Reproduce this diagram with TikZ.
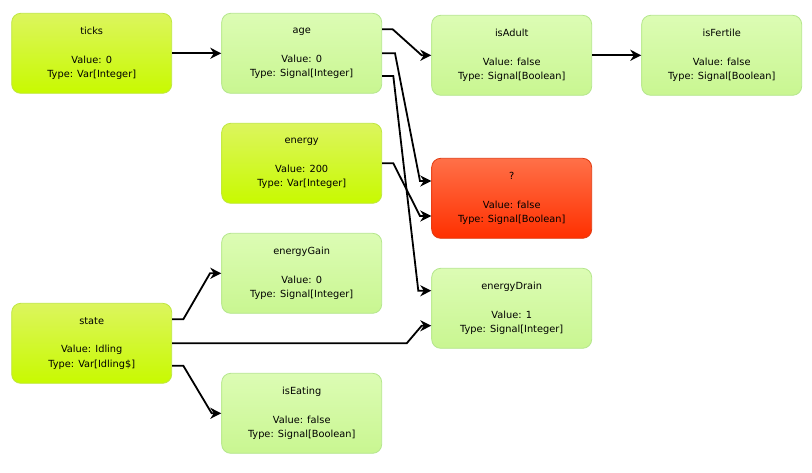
\documentclass[tikz,border=0pt]{standalone}
\usepackage{fontspec}
\setmainfont{DejaVu Sans}
\usetikzlibrary{arrows.meta,calc}
\definecolor{varTop}{HTML}{DCF55E}
\definecolor{varBot}{HTML}{C8FA00}
\definecolor{varLine}{HTML}{BEE640}
\definecolor{sigTop}{HTML}{DCFCB4}
\definecolor{sigBot}{HTML}{C9F691}
\definecolor{sigLine}{HTML}{B4E68C}
\definecolor{errTop}{HTML}{FF7048}
\definecolor{errBot}{HTML}{FF3000}
\definecolor{errLine}{HTML}{E03A10}
\tikzset{
  box/.style={rounded corners=9pt, minimum width=160pt, minimum height=80pt,
    align=center, line width=0.8pt, inner sep=0pt,
    font=\fontsize{9.8}{14.3}\selectfont},
  varbox/.style={box, draw=varLine, top color=varTop, bottom color=varBot},
  sigbox/.style={box, draw=sigLine, top color=sigTop, bottom color=sigBot},
  errbox/.style={box, draw=errLine, top color=errTop, bottom color=errBot},
  arr/.style={line width=1.8pt, -{Stealth[length=11pt,width=11pt,inset=3.5pt]}}
}
\begin{document}
\begin{tikzpicture}[x=1pt,y=-1pt]
\useasboundingbox (0,0) rectangle (812,472);
\node[varbox] (ticks) at (91.7,53.3) {ticks\\[14.3pt]Value: 0\\Type: Var[Integer]};
\node[sigbox] (age) at (301.7,53.3) {age\\[14.3pt]Value: 0\\Type: Signal[Integer]};
\node[sigbox] (isAdult) at (511.7,55.3) {isAdult\\[14.3pt]Value: false\\Type: Signal[Boolean]};
\node[sigbox] (isFertile) at (721.7,55.3) {isFertile\\[14.3pt]Value: false\\Type: Signal[Boolean]};
\node[varbox] (energy) at (301.7,163.3) {energy\\[14.3pt]Value: 200\\Type: Var[Integer]};
\node[errbox] (q) at (511.7,198.3) {?\\[14.3pt]Value: false\\Type: Signal[Boolean]};
\node[sigbox] (energyGain) at (301.7,273.3) {energyGain\\[14.3pt]Value: 0\\Type: Signal[Integer]};
\node[sigbox] (energyDrain) at (511.7,308.3) {energyDrain\\[14.3pt]Value: 1\\Type: Signal[Integer]};
\node[varbox] (state) at (91.7,343.3) {state\\[14.3pt]Value: Idling\\Type: Var[Idling\$]};
\node[sigbox] (isEating) at (301.7,413.3) {isEating\\[14.3pt]Value: false\\Type: Signal[Boolean]};

\draw[arr] (ticks) -- (age);
\draw[arr] (isAdult) -- (isFertile);
\draw[arr] ($(age.east)+(0,-24)$) -- (392.7,29.3) -- (421.7,55.3) -- (isAdult.west);
\draw[arr] (age.east) -- (395,53.3) -- (420,181) -- ($(q.west)+(0,-17.3)$);
\draw[arr] ($(age.east)+(0,22.7)$) -- (393.3,76) -- (418.3,290.7) -- ($(energyDrain.west)+(0,-17.6)$);
\draw[arr] (energy.east) -- (393.3,163.3) -- (420,216) -- ($(q.west)+(0,17.7)$);
\draw[arr] ($(state.east)+(0,-24)$) -- (183.3,319.3) -- (210,273.3) -- (energyGain.west);
\draw[arr] (state.east) -- (406.7,343.3) -- (421.7,325.7) -- ($(energyDrain.west)+(0,17.4)$);
\draw[arr] ($(state.east)+(0,22.4)$) -- (183.3,365.7) -- (211.7,413.3) -- (isEating.west);
\end{tikzpicture}
\end{document}
